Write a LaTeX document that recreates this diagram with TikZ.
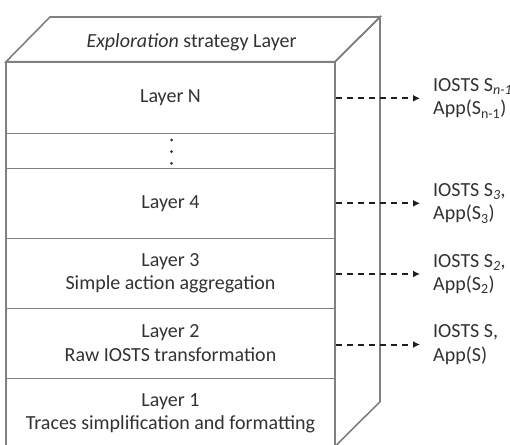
\documentclass[tikz,border=0pt]{standalone}
\usepackage{fontspec}
\setmainfont{Carlito}
\usetikzlibrary{arrows.meta}
\definecolor{edgegray}{RGB}{128,128,128}
\definecolor{txtgray}{RGB}{50,50,50}
\definecolor{arrgray}{RGB}{30,30,30}
\tikzset{
  layerbox/.style={draw=edgegray, line width=1.6pt, rectangle, minimum width=329pt, inner sep=0pt,
    align=center, text=txtgray, font=\fontsize{20}{23.5}\selectfont},
  facepoly/.style={draw=edgegray, line width=1.6pt, line join=miter},
  outlbl/.style={anchor=west, inner sep=2pt, align=left, text=txtgray, font=\fontsize{20}{23.5}\selectfont},
  dasharrow/.style={draw=arrgray, line width=2pt, dash pattern=on 6.5pt off 4.5pt,
    -{Latex[length=7pt,width=7pt]}, shorten >=11pt},
  dotmark/.style={circle, fill=txtgray, inner sep=0pt, minimum size=3pt}
}
\begin{document}
\begin{tikzpicture}[x=1pt,y=-1pt]
\useasboundingbox (0,0) rectangle (510,444);
\clip (0,0) rectangle (510,444);
% top face
\draw[facepoly] (6,61.7) -- (50,17) -- (380,17) -- (335,61.7) -- cycle;
\node[text=txtgray, font=\fontsize{20}{23.5}\selectfont] (top) at (191.5,42.5) {\textit{Exploration} strategy Layer};
% right face
\draw[facepoly] (335,61.7) -- (380,17) -- (380,401.7) -- (335,446.4);
% layers
\node[layerbox, minimum height=71.6pt] (lN) at (170.5,97.5) {Layer N};
\node[layerbox, minimum height=35pt] (ldots) at (170.5,150.8) {};
\node[dotmark] (d1) at (171.5,140) {};
\node[dotmark] (d2) at (171.5,151.7) {};
\node[dotmark] (d3) at (171.5,163.3) {};
\node[layerbox, minimum height=70pt] (l4) at (170.5,203.3) {Layer 4};
\node[layerbox, minimum height=70pt] (l3) at (170.5,273.3) {Layer 3\\Simple action aggregation};
\node[layerbox, minimum height=70pt] (l2) at (170.5,343.3) {Layer 2\\Raw IOSTS transformation};
\node[layerbox, minimum height=70pt] (l1) at (170.5,413.3) {Layer 1\\Traces simplification and formatting};
% output labels
\node[outlbl] (oN) at (431,98.3) {IOSTS S\textsubscript{\textit{n-1}},\\App(S\textsubscript{n-1})};
\node[outlbl] (o4) at (431,203.3) {IOSTS S\textsubscript{\textit{3}},\\App(S\textsubscript{3})};
\node[outlbl] (o3) at (431,274) {IOSTS S\textsubscript{\textit{2}},\\App(S\textsubscript{2})};
\node[outlbl] (o2) at (431,344.5) {IOSTS S,\\App(S)};
% arrows
\draw[dasharrow] (lN.east |- oN) -- (oN.west);
\draw[dasharrow] (l4.east |- o4) -- (o4.west);
\draw[dasharrow] (l3.east |- o3) -- (o3.west);
\draw[dasharrow] (l2.east |- o2) -- (o2.west);
\end{tikzpicture}
\end{document}
